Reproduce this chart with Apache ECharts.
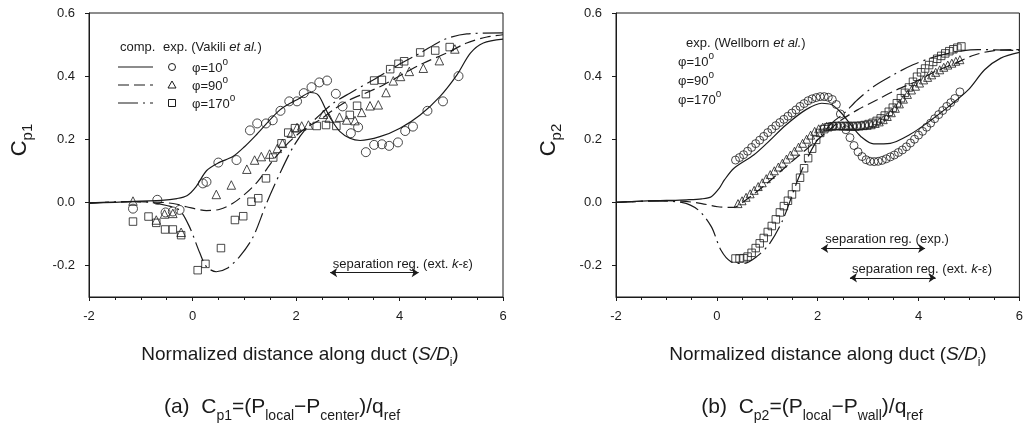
<!DOCTYPE html>
<html><head><meta charset="utf-8">
<script src="https://cdn.jsdelivr.net/npm/echarts@6/dist/echarts.min.js"></script>
<style>html,body{margin:0;padding:0;background:#fff}#c{width:1026px;height:429px}</style>
</head><body><div id="c"></div>
<script>
// ---------- axes ----------
const xTicks = [-2, 0, 2, 4, 6];
const yTicks = [-0.2, 0, 0.2, 0.4, 0.6];
const phiLabels = ['φ=10', 'φ=90', 'φ=170'];

// ---------- panel (a): Cp1, exp. Vakili et al. ----------
const aExp10 = [[-1.15,-0.02],[-0.68,0.008],[-0.52,-0.032],[-0.38,-0.029],[-0.25,-0.024],[0.2,0.06],[0.27,0.065],[0.5,0.126],[0.85,0.134],[1.11,0.228],[1.25,0.25],[1.42,0.25],[1.55,0.26],[1.7,0.29],[1.87,0.32],[2.02,0.32],[2.15,0.346],[2.3,0.365],[2.45,0.38],[2.6,0.386],[2.77,0.344],[2.9,0.304],[3.06,0.219],[3.2,0.238],[3.35,0.159],[3.51,0.182],[3.66,0.184],[3.8,0.179],[3.97,0.19],[4.11,0.226],[4.26,0.24],[4.54,0.29],[4.84,0.32],[5.14,0.4]];
const aExp90 = [[-1.15,0.004],[-0.7,-0.056],[-0.54,-0.037],[-0.38,-0.035],[-0.22,-0.095],[0.46,0.025],[0.75,0.055],[1.05,0.105],[1.2,0.134],[1.33,0.145],[1.49,0.153],[1.64,0.171],[1.74,0.187],[1.91,0.219],[2.02,0.237],[2.11,0.242],[2.24,0.245],[2.53,0.279],[2.64,0.267],[2.84,0.27],[2.98,0.261],[3.14,0.259],[3.27,0.285],[3.43,0.306],[3.59,0.309],[3.74,0.348],[3.88,0.385],[4.02,0.399],[4.19,0.415],[4.46,0.425],[4.77,0.449],[5.07,0.486]];
const aExp170 = [[-1.15,-0.061],[-0.85,-0.045],[-0.7,-0.065],[-0.53,-0.086],[-0.38,-0.086],[-0.22,-0.104],[0.1,-0.215],[0.25,-0.195],[0.55,-0.145],[0.82,-0.056],[0.98,-0.044],[1.14,0.002],[1.27,0.013],[1.42,0.076],[1.56,0.142],[1.72,0.187],[1.85,0.221],[1.98,0.235],[2.4,0.242],[2.58,0.245],[2.78,0.242],[3.04,0.277],[3.18,0.306],[3.35,0.343],[3.51,0.386],[3.66,0.388],[3.82,0.422],[3.98,0.439],[4.09,0.447],[4.4,0.475],[4.69,0.481],[4.97,0.492]];
const aComp10 = [[-2,-0.003],[-1.5,0.0],[-1,0.004],[-0.6,0.006],[-0.3,0.012],[-0.1,0.022],[0.07,0.05],[0.27,0.1],[0.5,0.125],[0.78,0.145],[1.01,0.177],[1.24,0.215],[1.69,0.293],[2.07,0.33],[2.28,0.348],[2.43,0.34],[2.56,0.3],[2.69,0.26],[2.85,0.224],[3.04,0.203],[3.24,0.196],[3.62,0.208],[4.01,0.235],[4.4,0.277],[4.78,0.335],[5.11,0.404],[5.37,0.473],[5.62,0.505],[6.0,0.517]];
const aComp90 = [[-2,-0.002],[-1.2,0.002],[-0.6,0.0],[-0.3,-0.006],[-0.12,-0.014],[0.27,-0.026],[0.53,-0.022],[0.78,-0.003],[1.04,0.03],[1.27,0.068],[1.56,0.134],[1.88,0.193],[2.2,0.237],[2.46,0.261],[2.72,0.293],[3.04,0.325],[3.37,0.348],[3.69,0.372],[4.07,0.407],[4.46,0.441],[4.91,0.473],[5.3,0.505],[5.69,0.524],[6,0.531]];
const aComp170 = [[-2,-0.002],[-1.2,0.002],[-0.8,0.0],[-0.5,-0.01],[-0.25,-0.025],[-0.06,-0.077],[0.14,-0.16],[0.27,-0.204],[0.46,-0.22],[0.66,-0.21],[0.91,-0.172],[1.17,-0.11],[1.43,-0.003],[1.69,0.092],[1.95,0.177],[2.2,0.235],[2.46,0.277],[2.72,0.314],[3.04,0.346],[3.49,0.388],[3.95,0.433],[4.4,0.473],[4.85,0.515],[5.3,0.534],[6,0.537]];
const aSepExt = [2.66, 4.37, -0.223];

// ---------- panel (b): Cp2, exp. Wellborn et al. ----------
const bExp10 = [[0.37,0.134],[0.45,0.142],[0.53,0.151],[0.61,0.162],[0.69,0.174],[0.77,0.186],[0.85,0.197],[0.93,0.209],[1.01,0.221],[1.09,0.232],[1.17,0.243],[1.25,0.253],[1.33,0.263],[1.41,0.273],[1.49,0.283],[1.57,0.293],[1.65,0.304],[1.73,0.313],[1.81,0.322],[1.89,0.328],[1.97,0.332],[2.05,0.335],[2.13,0.335],[2.21,0.333],[2.29,0.326],[2.37,0.31],[2.45,0.28],[2.56,0.23],[2.64,0.205],[2.72,0.18],[2.8,0.16],[2.88,0.145],[2.96,0.135],[3.04,0.13],[3.12,0.129],[3.2,0.13],[3.28,0.133],[3.36,0.138],[3.44,0.144],[3.52,0.15],[3.6,0.158],[3.68,0.166],[3.76,0.176],[3.84,0.188],[3.92,0.2],[4.0,0.213],[4.08,0.225],[4.16,0.238],[4.24,0.251],[4.32,0.265],[4.4,0.278],[4.48,0.291],[4.56,0.304],[4.64,0.316],[4.72,0.329],[4.82,0.35]];
const bExp90 = [[0.42,-0.004],[0.5,0.005],[0.58,0.016],[0.66,0.027],[0.74,0.038],[0.82,0.05],[0.9,0.062],[0.98,0.075],[1.06,0.088],[1.14,0.1],[1.22,0.112],[1.3,0.124],[1.38,0.137],[1.46,0.15],[1.54,0.162],[1.62,0.175],[1.7,0.187],[1.78,0.2],[1.86,0.213],[1.94,0.225],[2.02,0.233],[2.1,0.238],[2.18,0.241],[2.26,0.242],[2.34,0.243],[2.42,0.243],[2.5,0.242],[2.58,0.242],[2.66,0.241],[2.74,0.241],[2.82,0.242],[2.9,0.243],[2.98,0.244],[3.06,0.246],[3.14,0.25],[3.22,0.255],[3.3,0.262],[3.38,0.272],[3.46,0.284],[3.54,0.298],[3.62,0.312],[3.7,0.327],[3.78,0.342],[3.86,0.356],[3.94,0.368],[4.02,0.378],[4.1,0.388],[4.18,0.396],[4.26,0.404],[4.34,0.412],[4.42,0.42],[4.5,0.428],[4.58,0.435],[4.66,0.441],[4.74,0.447],[4.82,0.452]];
const bExp170 = [[0.37,-0.178],[0.45,-0.178],[0.53,-0.177],[0.61,-0.172],[0.69,-0.16],[0.77,-0.145],[0.85,-0.13],[0.93,-0.113],[1.01,-0.094],[1.09,-0.075],[1.17,-0.054],[1.25,-0.032],[1.33,-0.012],[1.41,0.005],[1.49,0.025],[1.57,0.048],[1.65,0.078],[1.73,0.108],[1.81,0.14],[1.89,0.17],[1.97,0.198],[2.05,0.22],[2.13,0.232],[2.21,0.238],[2.29,0.241],[2.37,0.242],[2.45,0.242],[2.53,0.242],[2.61,0.242],[2.69,0.242],[2.77,0.242],[2.85,0.243],[2.93,0.245],[3.01,0.248],[3.09,0.252],[3.17,0.258],[3.25,0.266],[3.33,0.275],[3.41,0.287],[3.49,0.3],[3.57,0.314],[3.65,0.33],[3.73,0.347],[3.81,0.364],[3.89,0.382],[3.97,0.398],[4.05,0.412],[4.13,0.424],[4.21,0.435],[4.29,0.445],[4.37,0.455],[4.45,0.464],[4.53,0.472],[4.61,0.479],[4.69,0.485],[4.77,0.49],[4.85,0.494]];
const bComp10 = [[-2,0],[-1.5,0.004],[-1,0.006],[-0.6,0.008],[-0.3,0.011],[-0.11,0.018],[0.05,0.045],[0.15,0.071],[0.34,0.108],[0.73,0.15],[0.99,0.187],[1.37,0.245],[1.76,0.293],[2.08,0.314],[2.28,0.309],[2.47,0.283],[2.66,0.245],[2.86,0.208],[3.11,0.185],[3.44,0.187],[3.82,0.214],[4.21,0.256],[4.6,0.304],[4.99,0.357],[5.31,0.42],[5.63,0.457],[6,0.475]];
const bComp90 = [[-2,0],[-1.2,0.005],[-0.7,0.004],[-0.3,-0.004],[0.02,-0.014],[0.34,-0.016],[0.53,0.002],[0.92,0.05],[1.37,0.113],[1.76,0.166],[2.15,0.219],[2.47,0.261],[2.79,0.293],[3.18,0.325],[3.57,0.357],[3.95,0.383],[4.34,0.415],[4.73,0.441],[5.11,0.467],[5.5,0.481],[6,0.484]];
const bComp170 = [[-2,0],[-1.2,0.004],[-0.7,0.0],[-0.37,-0.024],[-0.11,-0.077],[0.08,-0.151],[0.28,-0.188],[0.53,-0.194],[0.79,-0.172],[1.05,-0.13],[1.31,-0.055],[1.63,0.081],[1.95,0.187],[2.28,0.251],[2.53,0.283],[2.79,0.325],[3.11,0.367],[3.5,0.404],[3.89,0.436],[4.34,0.462],[4.79,0.478],[5.18,0.484],[6,0.481]];
const bSepExp = [2.07, 4.13, -0.146];
const bSepExt = [2.64, 4.34, -0.239];

// ---------- styling ----------
const FONT = "'Liberation Sans', Arial, sans-serif";
const INK = '#1b1b1b';
const DASH = [11, 5];
const DASHDOT = [20, 5, 2, 5];

const chart = echarts.init(document.getElementById('c'), null, {renderer: 'canvas'});

function xAxisFor(i) {
  return {
    type: 'value', gridIndex: i, min: -2, max: 6, interval: 2,
    axisLine: {show: true, onZero: false, lineStyle: {color: INK, width: 1}},
    axisTick: {show: true, inside: false, length: 4, lineStyle: {color: INK}},
    minorTick: {show: true, splitNumber: 4, length: 3, lineStyle: {color: INK}},
    splitLine: {show: false}, minorSplitLine: {show: false},
    axisLabel: {fontFamily: FONT, fontSize: 13, color: INK, margin: 13}
  };
}
function yAxisFor(i) {
  return {
    type: 'value', gridIndex: i, min: -0.3, max: 0.6,
    axisLine: {show: true, onZero: false, lineStyle: {color: INK, width: 1}},
    axisTick: {show: true, inside: false, length: 4, customValues: yTicks, lineStyle: {color: INK}},
    splitLine: {show: false},
    axisLabel: {fontFamily: FONT, fontSize: 13, color: INK, margin: 14,
      customValues: yTicks, formatter: v => v.toFixed(1)}
  };
}
function lineSeries(i, data, dash, mark) {
  const s = {
    type: 'line', xAxisIndex: i, yAxisIndex: i, data: data, smooth: 0.3,
    showSymbol: false, symbol: 'none', silent: true, animation: false, z: 3,
    lineStyle: {color: INK, width: 1.2, type: dash}
  };
  if (mark) {
    s.markLine = {
      silent: true, animation: false, symbol: ['arrow', 'arrow'], symbolSize: 7,
      label: {show: false}, lineStyle: {color: INK, width: 1, type: 'solid'},
      data: mark.map(m => [{coord: [m[0], m[2]]}, {coord: [m[1], m[2]]}])
    };
  }
  return s;
}
function scatterSeries(i, data, sym, size) {
  return {
    type: 'scatter', xAxisIndex: i, yAxisIndex: i, data: data, symbol: sym,
    symbolSize: size, silent: true, animation: false, z: 4,
    itemStyle: {color: 'rgba(255,255,255,0)', borderColor: INK, borderWidth: 1}
  };
}

chart.setOption({
  backgroundColor: '#fff',
  animation: false,
  grid: [
    {left: 89, right: 523, top: 13, bottom: 132, show: true, borderColor: INK, borderWidth: 1, backgroundColor: 'transparent'},
    {left: 616, right: -3, top: 13, bottom: 132, show: true, borderColor: INK, borderWidth: 1, backgroundColor: 'transparent'}
  ],
  xAxis: [xAxisFor(0), xAxisFor(1)],
  yAxis: [yAxisFor(0), yAxisFor(1)],
  series: [
    lineSeries(0, aComp10, 'solid', [aSepExt]),
    lineSeries(0, aComp90, DASH),
    lineSeries(0, aComp170, DASHDOT),
    scatterSeries(0, aExp10, 'circle', 9),
    scatterSeries(0, aExp90, 'triangle', 8.5),
    scatterSeries(0, aExp170, 'rect', 7.5),
    lineSeries(1, bComp10, 'solid', [bSepExp, bSepExt]),
    lineSeries(1, bComp90, DASH),
    lineSeries(1, bComp170, DASHDOT),
    scatterSeries(1, bExp10, 'circle', 8),
    scatterSeries(1, bExp90, 'triangle', 8),
    scatterSeries(1, bExp170, 'rect', 7.5)
  ]
});

// ---------- text & legend graphics ----------
const R = {
  n: {fontFamily: FONT, fontSize: 19, color: INK, verticalAlign: 'bottom', padding: [0, 0, 4, 0]},
  it: {fontFamily: FONT, fontSize: 19, fontStyle: 'italic', color: INK, verticalAlign: 'bottom', padding: [0, 0, 4, 0]},
  s: {fontFamily: FONT, fontSize: 12, color: INK, verticalAlign: 'bottom'},
  cn: {fontFamily: FONT, fontSize: 21, color: INK, verticalAlign: 'bottom', padding: [0, 0, 5, 0]},
  cs: {fontFamily: FONT, fontSize: 14, color: INK, verticalAlign: 'bottom'},
  yc: {fontFamily: FONT, fontSize: 22, color: INK, verticalAlign: 'bottom', padding: [0, 0, 4, 0]},
  ys: {fontFamily: FONT, fontSize: 15, color: INK, verticalAlign: 'bottom'},
  m: {fontFamily: FONT, fontSize: 13, color: INK, verticalAlign: 'bottom'},
  mi: {fontFamily: FONT, fontSize: 13, fontStyle: 'italic', color: INK, verticalAlign: 'bottom'},
  sup: {fontFamily: FONT, fontSize: 10, color: INK, verticalAlign: 'bottom', padding: [0, 0, 8, 0]}
};
function txt(x, y, text, opts) {
  opts = opts || {};
  return {
    type: 'text', x: x, y: y, rotation: opts.rot || 0, z: 100, silent: true,
    style: {text: text, rich: R, fill: INK, font: '13px ' + FONT,
      align: opts.align || 'left', verticalAlign: opts.va || 'middle',
      textAlign: opts.align || 'left', textVerticalAlign: opts.va || 'middle'}
  };
}
const g = [];
// y-axis titles
g.push(txt(22, 140, '{yc|C}{ys|p1}', {rot: Math.PI / 2, align: 'center'}));
g.push(txt(551, 140, '{yc|C}{ys|p2}', {rot: Math.PI / 2, align: 'center'}));
// x-axis titles
const xt = '{n|Normalized distance along duct (}{it|S/D}{s|i}{n|)}';
g.push(txt(300, 357, xt, {align: 'center'}));
g.push(txt(828, 357, xt, {align: 'center'}));
// captions
g.push(txt(282, 410, '{cn|(a)  C}{cs|p1}{cn|=(P}{cs|local}{cn|−P}{cs|center}{cn|)/q}{cs|ref}', {align: 'center'}));
g.push(txt(812, 410, '{cn|(b)  C}{cs|p2}{cn|=(P}{cs|local}{cn|−P}{cs|wall}{cn|)/q}{cs|ref}', {align: 'center'}));

// legend panel (a)
g.push(txt(120, 47, '{m|comp.}'));
g.push(txt(163, 47, '{m|exp. (Vakili }{mi|et al.}{m|)}'));
const rowsA = [67, 85, 103];
const dashes = [[], DASH, DASHDOT];
rowsA.forEach((y, k) => {
  g.push({type: 'line', z: 100, silent: true, shape: {x1: 118, y1: y, x2: 153, y2: y},
    style: {stroke: INK, lineWidth: 1.2, lineDash: dashes[k].length ? dashes[k] : null}});
  if (k === 0) g.push({type: 'circle', z: 100, silent: true, shape: {cx: 172, cy: y, r: 3.5}, style: {fill: 'none', stroke: INK, lineWidth: 1}});
  if (k === 1) g.push({type: 'polygon', z: 100, silent: true, shape: {points: [[172, y - 4], [176, y + 3], [168, y + 3]]}, style: {fill: 'none', stroke: INK, lineWidth: 1}});
  if (k === 2) g.push({type: 'rect', z: 100, silent: true, shape: {x: 168.5, y: y - 3.5, width: 7, height: 7}, style: {fill: 'none', stroke: INK, lineWidth: 1}});
  g.push(txt(192, y - 1, '{m|' + phiLabels[k] + '}{sup|o}'));
});
// legend panel (b)
g.push(txt(686, 43, '{m|exp. (Wellborn }{mi|et al.}{m|)}'));
[60, 79, 98].forEach((y, k) => g.push(txt(678, y, '{m|' + phiLabels[k] + '}{sup|o}')));

// separation region labels (placed at data positions)
const p1 = chart.convertToPixel({gridIndex: 0}, [aSepExt[0] + 0.05, aSepExt[2]]);
g.push(txt(p1[0], p1[1] - 2, '{m|separation reg. (ext. }{mi|k}{m|-ε)}', {va: 'bottom'}));
const p2 = chart.convertToPixel({gridIndex: 1}, [bSepExp[0] + 0.08, bSepExp[2]]);
g.push(txt(p2[0], p2[1] - 2, '{m|separation reg. (exp.)}', {va: 'bottom'}));
const p3 = chart.convertToPixel({gridIndex: 1}, [bSepExt[0] + 0.04, bSepExt[2]]);
g.push(txt(p3[0], p3[1] - 2, '{m|separation reg. (ext. }{mi|k}{m|-ε)}', {va: 'bottom'}));

chart.setOption({graphic: g});
</script>
</body></html>
